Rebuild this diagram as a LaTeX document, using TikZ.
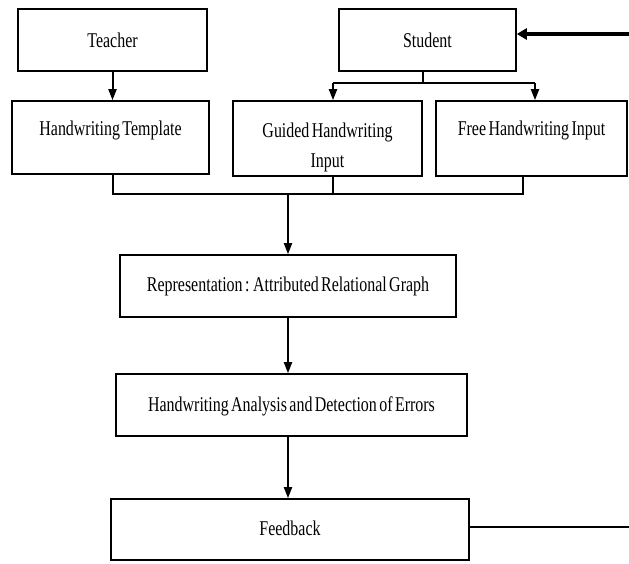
\documentclass[tikz,border=0pt]{standalone}
\usepackage{fontspec}
\setmainfont[FakeStretch=0.76,WordSpace=0.6]{Liberation Serif}
\usetikzlibrary{arrows.meta}
\begin{document}
\begin{tikzpicture}[x=1pt,y=-1pt,
  box/.style={draw, line width=1.6pt, inner sep=0pt},
  txt/.style={font=\fontsize{21}{24}\selectfont, anchor=base, inner sep=0pt},
  conn/.style={line width=2pt},
  arr/.style={conn, -{Triangle[length=11pt,width=8pt]}},
  bigarr/.style={line width=3.2pt, -{Triangle[length=10pt,width=11pt]}}]
\useasboundingbox (0,0) rectangle (629,563);
% boxes
\node[box, minimum width=189pt, minimum height=62pt,
  label={[txt]center:Teacher}] (Teacher) at (112.5,40) {};
\node[box, minimum width=177pt, minimum height=62pt,
  label={[txt]center:Student}] (Student) at (427.5,40) {};
\node[box, minimum width=197pt, minimum height=73pt,
  label={[txt,yshift=7.5pt]center:Handwriting Template}] (HT) at (110.5,137.5) {};
\node[box, minimum width=189pt, minimum height=75pt,
  label={[txt,yshift=6.5pt]center:Guided Handwriting},
  label={[txt,yshift=-24.5pt]center:Input}] (Guided) at (327.5,138.5) {};
\node[box, minimum width=191pt, minimum height=75pt,
  label={[txt,yshift=8.5pt]center:Free Handwriting Input}] (Free) at (531.5,138.5) {};
\node[box, minimum width=336pt, minimum height=62pt,
  label={[txt]center:Representation : Attributed Relational Graph}] (Rep) at (288,286) {};
\node[box, minimum width=351pt, minimum height=62pt,
  label={[txt,yshift=-1pt]center:Handwriting Analysis and Detection of Errors}] (Analysis) at (291.5,405) {};
\node[box, minimum width=358pt, minimum height=61pt,
  label={[txt,yshift=1.5pt]center:Feedback}] (Feedback) at (290,529.5) {};
% coordinates
\coordinate (sj) at (423,83);
\coordinate (gl) at (333,83);
\coordinate (fr) at (535,83);
\coordinate (b1) at (113,194);
\coordinate (b2) at (333,194);
\coordinate (b3) at (523,194);
\coordinate (bm) at (288,194);
\coordinate (fbr) at (629,527);
\coordinate (str) at (629,34);
% connectors
\draw[arr] (Teacher.south) -- (Teacher.south |- HT.north);
\draw[conn] (sj |- Student.south) -- (sj);
\draw[conn] (gl) -- (fr);
\draw[arr] (gl) -- (gl |- Guided.north);
\draw[arr] (fr) -- (fr |- Free.north);
\draw[conn] (b1 |- HT.south) -- (b1) -- (b3) -- (b3 |- Free.south);
\draw[conn] (b2 |- Guided.south) -- (b2);
\draw[arr] (bm) -- (bm |- Rep.north);
\draw[arr] (Rep.south) -- (Rep.south |- Analysis.north);
\draw[arr] (Rep.south |- Analysis.south) -- (Rep.south |- Feedback.north);
\draw[conn] (fbr -| Feedback.east) -- (fbr);
\draw[bigarr] (str) -- (str -| Student.east);
\end{tikzpicture}
\end{document}
